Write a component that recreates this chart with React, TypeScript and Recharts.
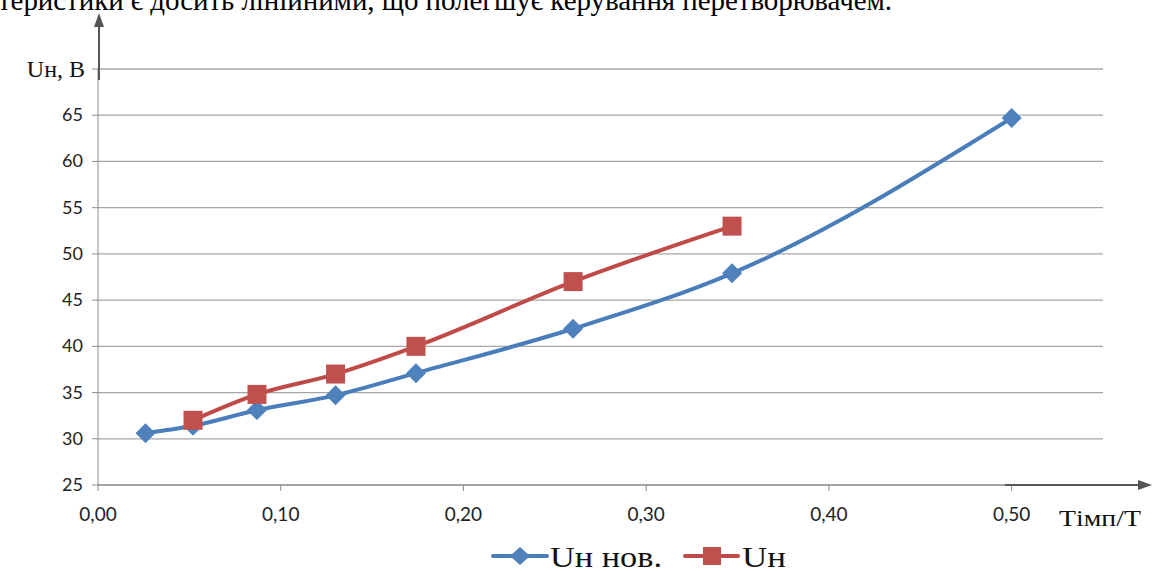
import React from 'react';
import { LineChart, Line, XAxis, YAxis, CartesianGrid } from 'recharts';

// Tімп/T values (x) and output voltage Uн (y)
const tImpNew = [0.026, 0.052, 0.087, 0.13, 0.174, 0.26, 0.347, 0.5];
const uNew = [30.6, 31.4, 33.1, 34.7, 37.1, 41.9, 47.9, 64.7];
const tImpOld = [0.052, 0.087, 0.13, 0.174, 0.26, 0.347];
const uOld = [32, 34.8, 37, 40, 47, 53];

const xTicks = [0, 0.1, 0.2, 0.3, 0.4, 0.5];
const yTicks = [25, 30, 35, 40, 45, 50, 55, 60, 65, 70];

const seriesNames = ['Uн нов.', 'Uн'];
const topText = 'теристики є досить лінійними, що полегшує керування перетворювачем.';

const BLUE_LINE = '#4A7EBB';
const BLUE_MARK = '#4F81BD';
const RED_LINE = '#BE4B48';
const RED_MARK = '#C0504D';

const newData = tImpNew.map((x, i) => ({ x, y: uNew[i] }));
const oldData = tImpOld.map((x, i) => ({ x, y: uOld[i] }));

const SERIF = '"Liberation Serif", "DejaVu Serif", serif';
const SANS = 'Lato, "Open Sans", sans-serif';

function Diamond({ cx, cy }: any) {
  if (cx == null || cy == null) return null;
  const r = 10;
  return (
    <polygon
      points={`${cx},${cy - r} ${cx + r},${cy} ${cx},${cy + r} ${cx - r},${cy}`}
      fill={BLUE_MARK}
    />
  );
}

function Square({ cx, cy }: any) {
  if (cx == null || cy == null) return null;
  const h = 9.5;
  return <rect x={cx - h} y={cy - h} width={h * 2} height={h * 2} fill={RED_MARK} />;
}

function YTick({ x, y, payload }: any) {
  if (payload.value === 70) {
    return (
      <text x={x + 2} y={y} dy={8} textAnchor="end" fontFamily={SERIF} fontSize={24} fill="#111">
        Uн, B
      </text>
    );
  }
  return (
    <text x={x} y={y} dy={6} textAnchor="end" fontFamily={SANS} fontSize={18} fill="#222">
      {payload.value}
    </text>
  );
}

// legend + arrows + axis caption, drawn over the chart
function Overlay() {
  return (
    <svg
      width={1152}
      height={571}
      style={{ position: 'absolute', left: 0, top: 0, pointerEvents: 'none' }}
    >
      <text x={-2} y={10} fontFamily={SERIF} fontSize={29} fill="#000" textLength={894}>
        {topText}
      </text>
      <line x1={99} y1={20} x2={99} y2={80} stroke="#555" strokeWidth={2} />
      <polygon points="99,13 94,27 104,27" fill="#555" />
      <line x1={1005} y1={485} x2={1140} y2={485} stroke="#555" strokeWidth={2} />
      <polygon points="1152,485 1138,480 1138,490" fill="#555" />
      <text
        x={1059}
        y={526}
        fontFamily={SERIF}
        fontSize={23}
        fill="#111"
        textLength={82}
        lengthAdjust="spacingAndGlyphs"
      >
        Tімп/T
      </text>

      <line x1={493} y1={556} x2={547} y2={556} stroke={BLUE_LINE} strokeWidth={4} strokeLinecap="round" />
      <polygon points="520,547 530,556 520,565 510,556" fill={BLUE_MARK} />
      <text
        x={550}
        y={567}
        fontFamily={SERIF}
        fontSize={30}
        fill="#111"
        textLength={112}
        lengthAdjust="spacingAndGlyphs"
      >
        {seriesNames[0]}
      </text>
      <line x1={685} y1={556} x2={738} y2={556} stroke={RED_LINE} strokeWidth={4} strokeLinecap="round" />
      <rect x={703} y={547} width={18} height={18} fill={RED_MARK} />
      <text
        x={742}
        y={567}
        fontFamily={SERIF}
        fontSize={30}
        fill="#111"
        textLength={44}
        lengthAdjust="spacingAndGlyphs"
      >
        {seriesNames[1]}
      </text>
    </svg>
  );
}

const fmtX = (v: number) => v.toFixed(2).replace('.', ',');

export default function App() {
  return (
    <div
      style={{
        position: 'fixed',
        left: 0,
        top: 0,
        width: 1152,
        height: 571,
        background: '#fff',
        overflow: 'hidden',
      }}
    >
      <LineChart
        width={1152}
        height={571}
        margin={{ top: 69, right: 49, left: 38, bottom: 56 }}
      >
        <CartesianGrid vertical={false} stroke="#A6A6A6" strokeWidth={1.3} />
        <XAxis
          type="number"
          dataKey="x"
          domain={[0, 0.55]}
          ticks={xTicks}
          tickFormatter={fmtX}
          allowDataOverflow
          height={30}
          stroke="#8C8C8C"
          tickSize={6}
          tickMargin={17}
          tick={{ fill: '#222', fontSize: 19, fontFamily: SANS }}
        />
        <YAxis
          type="number"
          domain={[25, 70]}
          ticks={yTicks}
          width={60}
          stroke="#8C8C8C"
          tickSize={6}
          tickMargin={9}
          tick={<YTick />}
          interval={0}
        />
        <Line
          data={newData}
          dataKey="y"
          name={seriesNames[0]}
          type="monotone"
          stroke={BLUE_LINE}
          strokeWidth={4}
          dot={<Diamond />}
          activeDot={false}
          isAnimationActive={false}
        />
        <Line
          data={oldData}
          dataKey="y"
          name={seriesNames[1]}
          type="monotone"
          stroke={RED_LINE}
          strokeWidth={4}
          dot={<Square />}
          activeDot={false}
          isAnimationActive={false}
        />
      </LineChart>
      <Overlay />
    </div>
  );
}
